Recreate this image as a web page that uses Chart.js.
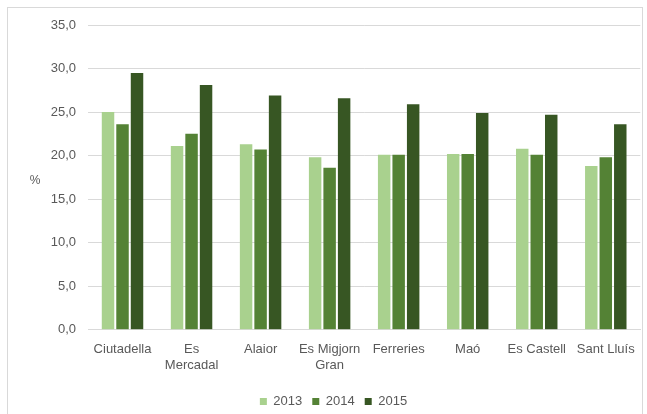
<!DOCTYPE html>
<html>
<head>
<meta charset="utf-8">
<script src="https://cdn.jsdelivr.net/npm/chart.js@4/dist/chart.umd.min.js"></script>
<style>
html,body{margin:0;padding:0;background:#fff;}
#wrap{position:absolute;left:0;top:0;width:647px;height:414px;}
</style>
</head>
<body>
<div id="wrap"><canvas id="c" width="647" height="414"></canvas></div>
<script>
const categories = ["Ciutadella", ["Es", "Mercadal"], "Alaior", ["Es Migjorn", "Gran"], "Ferreries", "Maó", "Es Castell", "Sant Lluís"];
const seriesNames = ["2013", "2014", "2015"];
const values2013 = [25.0, 21.1, 21.3, 19.8, 20.1, 20.2, 20.8, 18.8];
const values2014 = [23.6, 22.5, 20.7, 18.6, 20.1, 20.2, 20.1, 19.8];
const values2015 = [29.5, 28.1, 26.9, 26.6, 25.9, 24.9, 24.7, 23.6];
const yTitle = "%";

const colors = ["#a9d18e", "#548235", "#375623"];
const FONT = "'Liberation Sans', Arial, sans-serif";
const TXT = "#595959";

const borderPlugin = {
  id: 'borderBox',
  beforeDraw(chart) {
    const ctx = chart.ctx;
    ctx.save();
    ctx.fillStyle = '#fff';
    ctx.fillRect(0, 0, chart.width, chart.height);
    ctx.strokeStyle = '#d9d9d9';
    ctx.lineWidth = 1;
    ctx.strokeRect(7.5, 7.5, 635, 430);
    ctx.restore();
  },
  afterDraw(chart) {
    const ctx = chart.ctx;
    const a = chart.chartArea;
    ctx.save();
    ctx.fillStyle = TXT;
    ctx.font = "12px " + FONT;
    ctx.textAlign = 'center';
    ctx.textBaseline = 'middle';
    ctx.fillText(yTitle, 35, (a.top + a.bottom) / 2 + 3);
    ctx.restore();
  }
};

new Chart(document.getElementById('c'), {
  type: 'bar',
  data: {
    labels: categories,
    datasets: [
      { label: seriesNames[0], data: values2013, backgroundColor: colors[0] },
      { label: seriesNames[1], data: values2014, backgroundColor: colors[1] },
      { label: seriesNames[2], data: values2015, backgroundColor: colors[2] }
    ]
  },
  options: {
    responsive: false,
    animation: false,
    devicePixelRatio: 1,
    datasets: { bar: { categoryPercentage: 0.63, barPercentage: 0.86 } },
    layout: { padding: { left: 25, right: 5, top: 25, bottom: -4 } },
    plugins: {
      legend: {
        position: 'bottom',
        labels: { boxWidth: 7, boxHeight: 7, padding: 10, color: TXT, font: { family: FONT, size: 13 } }
      },
      tooltip: { enabled: false }
    },
    scales: {
      x: {
        grid: { display: false, drawTicks: false },
        border: { color: '#d9d9d9' },
        ticks: { color: TXT, font: { family: FONT, size: 13, lineHeight: 1.2 }, padding: 12, maxRotation: 0, autoSkip: false }
      },
      y: {
        min: 0, max: 35,
        afterFit(s) { s.width = 63; },
        grid: { color: '#d9d9d9', drawTicks: false },
        border: { display: false },
        ticks: {
          stepSize: 5, padding: 12, color: TXT, font: { family: FONT, size: 13 },
          callback: v => v.toFixed(1).replace('.', ',')
        }
      }
    }
  },
  plugins: [borderPlugin]
});
</script>
</body>
</html>
